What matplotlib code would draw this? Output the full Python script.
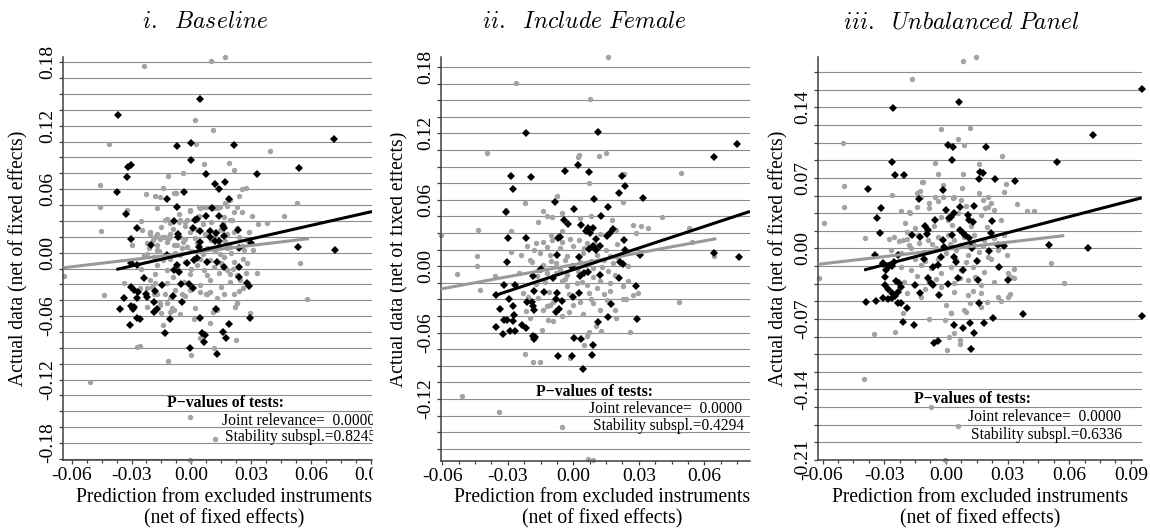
import numpy as np
import matplotlib
matplotlib.use("Agg")
import matplotlib.pyplot as plt
from matplotlib.ticker import MultipleLocator, FormatStrFormatter
from matplotlib.patches import Rectangle

plt.rcParams["font.family"] = ["Liberation Serif", "DejaVu Serif"]
plt.rcParams["mathtext.fontset"] = "cm"

W, H = 1150, 531

# ── data (x = prediction, y = actual) ────────────────────────────────────────
titles = [r"$i.\ \ Baseline$", r"$ii.\ \ Include\ Female$", r"$iii.\ \ Unbalanced\ Panel$"]
p_joint = ["0.0000", "0.0000", "0.0000"]
p_stab = ["0.8245", "0.4294", "0.6336"]

black1 = [(-0.0369, 0.130), (0.0045, 0.145), (0.0716, 0.1076), (-0.0072, 0.101), (-0.0002, 0.104),
          (0.0215, 0.1016), (0.0000, 0.088), (-0.0305, 0.0827), (-0.0319, 0.081), (-0.0325, 0.0716),
          (-0.0372, 0.0569), (0.0075, 0.074), (0.0329, 0.0748), (0.0542, 0.0805), (-0.0039, 0.0575),
          (0.0117, 0.0645), (0.0137, 0.060), (0.0170, 0.067), (-0.0122, 0.0503), (0.0187, 0.0512),
          (-0.0072, 0.0433), (-0.0326, 0.0364), (0.0020, 0.0307), (0.0029, 0.0323), (0.0105, 0.0424),
          (0.0075, 0.0348), (0.0137, 0.0348), (-0.0089, 0.0298), (0.0159, 0.0253), (0.0165, 0.0229),
          (0.0008, 0.0229), (-0.0272, 0.0238), (0.0234, 0.0219), (0.0045, 0.0206), (0.0092, 0.0206),
          (-0.0069, 0.018), (-0.0069, 0.0144), (0.0125, 0.019), (0.0095, 0.0149), (0.0162, 0.0156),
          (0.0117, 0.0112), (0.0140, 0.0112), (-0.0305, 0.013), (0.0299, 0.0087), (-0.0202, 0.0077),
          (0.0045, 0.0102), (0.0039, 0.0055), (0.0237, 0.004), (0.0534, 0.0049), (0.0721, 0.003),
          (-0.0122, -0.0024), (0.0012, -0.0071), (0.0028, -0.0049), (-0.0302, -0.0102), (0.0129, -0.0087),
          (0.0079, -0.0087), (-0.0072, -0.0118), (-0.0022, -0.0102), (0.0165, -0.0134), (0.0237, -0.0134),
          (-0.0272, -0.0118), (-0.0089, -0.0165), (-0.0064, -0.0181), (-0.0239, -0.0244), (-0.0305, -0.0323),
          (-0.0289, -0.0354), (-0.0147, -0.0307), (-0.0052, -0.0298), (0.0008, -0.0338), (-0.0013, -0.0298),
          (-0.0267, -0.037), (-0.0272, -0.0433), (-0.0227, -0.0392), (-0.0222, -0.0418), (-0.0184, -0.0361),
          (-0.0092, -0.0411), (0.0279, -0.0285), (0.0287, -0.0317), (0.0237, -0.0234), (-0.0339, -0.0424),
          (-0.0185, -0.0465), (-0.0045, -0.0465), (-0.0356, -0.0534), (-0.0302, -0.0506), (-0.0292, -0.0534),
          (-0.0285, -0.0518), (-0.0185, -0.056), (-0.0172, -0.0537), (0.0124, -0.0528), (-0.0272, -0.0622),
          (-0.0255, -0.0631), (-0.0105, -0.0631), (0.0045, -0.0616), (0.0295, -0.0622), (-0.0309, -0.0685),
          (0.0189, -0.0676), (-0.0134, -0.0758), (0.0054, -0.0758), (0.0070, -0.078), (0.0065, -0.0849),
          (0.0159, -0.0748), (0.0174, -0.0811), (-0.0005, -0.0905), (0.0129, -0.0962)]

gray1 = [(-0.0239, 0.1766), (0.0099, 0.1816), (0.0170, 0.185), (0.0017, 0.1259), (0.0109, 0.1158),
         (-0.0414, 0.1032), (0.0025, 0.1026), (0.0396, 0.0962), (0.0065, 0.0836), (0.0187, 0.0849),
         (0.0212, 0.0786), (-0.0044, 0.0755), (-0.0119, 0.0723), (-0.0459, 0.0644), (0.0275, 0.0616),
         (0.0254, 0.060), (-0.0143, 0.0613), (-0.0227, 0.0559), (-0.018, 0.0537), (-0.0159, 0.0527),
         (-0.0089, 0.0565), (-0.0075, 0.0565), (0.0237, 0.0537), (-0.0456, 0.0433), (-0.0172, 0.0418),
         (0.0529, 0.0474), (-0.0322, 0.0408), (-0.0009, 0.0395), (0.0042, 0.0427), (0.0062, 0.0433),
         (0.0112, 0.0418), (0.0145, 0.0433), (0.0179, 0.044), (0.0254, 0.0386), (0.0304, 0.0348),
         (0.0466, 0.0348), (0.0379, 0.0282), (0.0334, 0.0267), (-0.0451, 0.0203), (-0.0122, 0.0323),
         (-0.0105, 0.0276), (-0.0055, 0.0307), (-0.003, 0.0291), (0.0204, 0.0307), (-0.0247, 0.0213),
         (-0.0205, 0.0181), (-0.018, 0.0149), (-0.0155, 0.0134), (-0.013, 0.0149), (-0.0297, 0.0071),
         (0.0279, 0.0118), (0.0254, 0.0061), (-0.0022, 0.0055), (-0.0047, 0.004), (-0.0089, 0.0071),
         (0.0179, 0.004), (0.0145, -0.0008), (-0.0172, 0.0024), (-0.0222, -0.0008), (0.0546, -0.0096),
         (0.0279, -0.0102), (-0.0639, -0.0222), (-0.0436, -0.0402), (0.0329, -0.0191), (0.0275, -0.0191),
         (0.0195, -0.0203), (0.0579, -0.0439), (0.0237, -0.0361), (0.0045, -0.037), (0.0095, -0.037),
         (0.0075, -0.0386), (0.0165, -0.0392), (-0.013, -0.0386), (-0.0172, -0.0386), (-0.0047, -0.0386),
         (-0.003, -0.0411), (-0.0222, -0.0338), (-0.0197, -0.0323), (-0.018, -0.0291), (-0.0122, -0.048),
         (-0.0089, -0.0543), (-0.0105, -0.056), (-0.0159, -0.048), (-0.0152, -0.0569), (-0.0222, -0.0512),
         (0.0229, -0.048), (0.022, -0.0512), (0.0292, -0.0566), (0.0109, -0.056), (0.0015, -0.0631),
         (0.0095, -0.0663), (-0.0144, -0.0679), (0.0225, -0.0827), (0.0045, -0.0811), (-0.0272, -0.0896),
         (-0.0255, -0.0881), (-0.0002, -0.0969), (0.0112, -0.0905), (-0.0119, -0.1026), (-0.0506, -0.1221),
         (-0.0009, -0.1558), (0.0120, -0.1763), (-0.0009, -0.1961),
         (-0.0005, 0.0402), (0.0037, 0.0433), (0.0079, 0.0433), (0.0129, 0.0418), (0.017, 0.0465),
         (0.0195, 0.0496), (0.0229, 0.0433), (-0.013, 0.0307), (-0.0064, 0.0291), (-0.0022, 0.0307),
         (0.0162, 0.0338), (0.0195, 0.0307), (0.0212, 0.0386), (-0.0205, 0.0197), (-0.0172, 0.0181),
         (-0.0147, 0.0149), (-0.0105, 0.0181), (-0.0055, 0.0149), (-0.003, 0.0134), (-0.0005, 0.0197),
         (0.0029, 0.0213), (0.007, 0.0181), (0.012, 0.0165), (0.0145, 0.0213), (0.0179, 0.0181),
         (0.0212, 0.0197), (0.0229, 0.0229), (-0.0222, 0.0087), (-0.0172, 0.0071), (-0.0122, 0.0102),
         (-0.0072, 0.0071), (-0.0022, 0.0055), (0.0029, 0.0087), (0.0079, 0.004), (0.0137, 0.0071),
         (0.0195, 0.0055), (0.0262, 0.0024), (-0.0239, -0.0024), (-0.0189, -0.004), (-0.0105, -0.0055),
         (-0.0055, -0.0024), (0.0045, -0.0055), (0.0095, -0.0071), (0.0162, -0.004), (0.0212, -0.0087),
         (-0.0172, -0.0118), (-0.0122, -0.0165), (-0.0072, -0.0134), (-0.0005, -0.0197), (0.0062, -0.0165),
         (0.0112, -0.0134), (0.0179, -0.0165), (0.0229, -0.0213), (-0.0205, -0.026), (-0.0122, -0.0291),
         (-0.0039, -0.0276), (0.0045, -0.0307), (0.0095, -0.026), (0.0195, -0.0276), (0.0245, -0.026),
         (-0.0339, -0.0291), (-0.0255, -0.0338), (-0.0189, -0.0386), (-0.0105, -0.0433), (-0.0005, -0.0354),
         (0.0079, -0.0386), (0.0129, -0.0433), (0.0212, -0.0386), (-0.0155, -0.0496), (-0.0097, -0.0527),
         (-0.0055, -0.0575), (0.002, -0.0527), (0.0129, -0.0543), (0.0229, -0.048),
         (-0.0150, 0.0240), (-0.0090, 0.0220), (-0.0030, 0.0250), (0.0060, 0.0270), (0.0100, 0.0290),
         (0.0160, 0.0280), (-0.0190, 0.0120), (-0.0110, 0.0140), (-0.0040, 0.0100), (0.0020, 0.0140),
         (0.0100, 0.0120), (0.0170, 0.0110), (0.0240, 0.0150), (-0.0160, 0.0020), (-0.0080, 0.0000),
         (0.0000, 0.0020), (0.0060, -0.0010), (0.0120, 0.0020), (0.0200, 0.0000), (-0.0140, -0.0070),
         (-0.0030, -0.0090), (0.0030, -0.0120), (0.0150, -0.0100), (0.0260, -0.0060), (-0.0180, -0.0200),
         (-0.0090, -0.0230), (0.0000, -0.0150), (0.0080, -0.0210), (0.0140, -0.0190), (0.0210, -0.0150),
         (-0.0250, -0.0150), (-0.0210, 0.0040), (0.0310, 0.0030), (0.0290, 0.0200), (-0.0060, 0.0370),
         (0.0040, 0.0350), (0.0260, -0.0330), (-0.0080, -0.0350), (0.0150, -0.0320), (-0.0250, 0.0300)]

black2 = [(-0.0218, 0.1202), (0.0115, 0.1211), (0.0751, 0.1105), (0.0645, 0.099), (0.0023, 0.0915),
          (-0.0038, 0.0861), (0.007, 0.0852), (-0.0287, 0.0819), (-0.0195, 0.081), (0.0222, 0.0819),
          (-0.0275, 0.0699), (0.0238, 0.0729), (0.0211, 0.066), (0.0321, 0.0615), (0.0095, 0.0608),
          (-0.0084, 0.0584), (-0.031, 0.0488), (0.016, 0.0539), (0.0005, 0.0515), (-0.0041, 0.0419),
          (0.0035, 0.0374), (0.0128, 0.0455), (0.0069, 0.0349), (0.0092, 0.0349), (0.0058, 0.032),
          (0.0077, 0.0299), (-0.0023, 0.038), (-0.0218, 0.0259), (-0.0298, 0.0259), (-0.0061, 0.0268),
          (-0.0069, 0.0254), (0.0183, 0.0335), (0.0168, 0.0304), (0.0153, 0.0274), (0.0104, 0.0245),
          (0.0232, 0.0238), (0.0073, 0.0154), (0.0089, 0.0178), (0.0104, 0.0142), (0.0122, 0.0184),
          (0.0237, 0.0148), (0.0306, 0.0103), (-0.0073, 0.0103), (0.0026, 0.0079), (0.0646, 0.0118),
          (0.0759, 0.0079), (-0.0306, 0.0042), (0.0214, 0.0037), (0.0229, 0.0019), (-0.0186, -0.0087),
          (-0.0149, -0.0026), (-0.0092, -0.0107), (-0.0007, -0.0008), (0.0031, -0.0093), (0.0049, -0.0062),
          (0.0069, -0.0048), (0.0122, -0.0078), (0.0211, -0.0107), (-0.0317, -0.0168), (-0.0267, -0.0168),
          (-0.0354, -0.0258), (-0.0293, -0.0297), (-0.018, -0.0228), (-0.0134, -0.0237), (-0.0073, -0.0243),
          (-0.0079, -0.0297), (-0.0003, -0.0279), (0.0025, -0.0243), (0.0287, -0.0183), (-0.0052, -0.031),
          (-0.0213, -0.0328), (-0.0191, -0.0319), (-0.0186, -0.0357), (-0.018, -0.0394), (-0.0275, -0.0364),
          (-0.0272, -0.0439), (-0.0336, -0.0387), (-0.0079, -0.0418), (-0.0064, -0.0387), (0.0171, -0.0342),
          (0.016, -0.046), (0.0293, -0.0478), (0.0115, -0.0508), (-0.0316, -0.0484), (-0.0302, -0.049),
          (-0.0275, -0.0499), (-0.0354, -0.055), (-0.0323, -0.061), (-0.029, -0.0583), (-0.0267, -0.059),
          (-0.0236, -0.0529), (-0.0218, -0.0559), (-0.0186, -0.0628), (-0.018, -0.0658), (-0.0176, -0.064),
          (0.0005, -0.0649), (0.0035, -0.0658), (0.0092, -0.071), (-0.0069, -0.0815), (-0.0007, -0.0809),
          (0.0087, -0.080), (0.0043, -0.0929)]

gray2 = [(0.0158, 0.1893), (-0.0264, 0.1658), (0.0077, 0.1509), (-0.0397, 0.1027), (0.0028, 0.1006),
         (0.002, 0.099), (0.0118, 0.0997), (0.015, 0.1027), (0.0493, 0.0841), (0.0234, 0.0831),
         (0.0073, 0.075), (-0.0073, 0.0636), (-0.0221, 0.057), (0.0226, 0.0579), (-0.0308, 0.0509),
         (-0.0137, 0.0503), (-0.0052, 0.0485), (-0.0122, 0.0449), (-0.0099, 0.044), (0.0405, 0.0443),
         (0.008, 0.0455), (0.0031, 0.0434), (0.0176, 0.0419), (0.0275, 0.0374), (0.031, 0.0367),
         (-0.0287, 0.0322), (-0.0435, 0.0329), (-0.0163, 0.0395), (0.0196, 0.0329), (0.053, 0.0344),
         (0.0542, 0.0218), (0.0287, 0.0304), (0.0344, 0.0349), (-0.0607, 0.0283), (-0.044, 0.0094),
         (-0.0213, 0.0178), (-0.0171, 0.0209), (-0.0137, 0.0223), (-0.0099, 0.0238), (-0.0053, 0.0223),
         (-0.0015, 0.0245), (0.0027, 0.0238), (0.0061, 0.0209), (0.0646, 0.0094), (-0.0287, 0.0127),
         (-0.0153, 0.0118), (-0.0107, 0.0103), (-0.003, 0.0088), (0.0046, 0.0118), (0.0107, 0.0103),
         (0.0168, 0.0088), (-0.0531, -0.0069), (-0.0443, 0.0004), (-0.0427, -0.0213), (-0.0359, -0.0093),
         (0.0484, -0.0324), (-0.0511, -0.1176), (-0.034, -0.1317), (-0.0052, -0.1453), (0.0069, -0.1741),
         (0.0092, -0.1754), (-0.0221, -0.0791), (-0.0183, -0.0869), (-0.0153, -0.0869), (-0.0015, -0.083),
         (0.0049, -0.071), (0.0061, -0.0628), (0.0073, -0.0599), (0.0104, -0.0544), (0.0126, -0.0589),
         (0.026, -0.0599), (0.0195, -0.0469), (0.0191, -0.040), (0.0275, -0.0258), (0.0298, -0.0243),
         (0.0226, -0.0297), (0.0226, -0.0183), (0.0252, -0.0138), (-0.0115, -0.0484), (-0.0092, -0.0499),
         (-0.0145, -0.058), (0.0043, -0.043), (-0.0018, -0.0418), (-0.0137, -0.0394), (-0.0122, -0.0364),
         (-0.0229, -0.0243), (-0.0206, -0.0274), (-0.0092, -0.0319), (-0.0107, -0.0348), (0.0031, -0.0319),
         (0.0092, -0.0333), (0.0153, -0.0303), (-0.003, -0.0183), (0.0015, -0.0153), (0.0061, -0.0168),
         (0.0107, -0.0198), (0.0168, -0.0153), (-0.0168, -0.0093), (-0.0122, -0.0062), (-0.0061, -0.0032),
         (-0.003, -0.0078), (-0.0198, -0.0469), (-0.0217, -0.0409), (-0.0190, 0.0040), (-0.0140, 0.0010),
         (-0.0080, 0.0030), (0.0000, 0.0000), (0.0060, 0.0010), (0.0130, -0.0010), (0.0180, 0.0030),
         (-0.0250, -0.0060), (0.0090, -0.0100), (-0.0050, -0.0130), (0.0140, -0.0250), (-0.0170, -0.0160),
         (-0.0180, 0.0150), (-0.0120, 0.0170), (-0.0060, 0.0160), (0.0000, 0.0180), (0.0050, 0.0160),
         (0.0100, 0.0200), (0.0150, 0.0150), (-0.0200, 0.0060), (-0.0100, 0.0050), (-0.0040, 0.0060),
         (0.0030, 0.0040), (0.0080, 0.0050), (0.0140, 0.0060), (0.0200, 0.0080), (-0.0160, -0.0030),
         (-0.0080, -0.0060), (0.0020, -0.0040), (0.0090, -0.0020), (0.0160, -0.0040), (-0.0130, -0.0140),
         (-0.0040, -0.0120), (0.0040, -0.0140), (0.0120, -0.0130), (0.0190, -0.0080), (-0.0110, -0.0230),
         (-0.0020, -0.0250), (0.0070, -0.0240), (0.0170, -0.0220), (-0.0160, -0.0290), (0.0000, -0.0350),
         (0.0120, -0.0400), (-0.0050, -0.0450), (0.0200, 0.0200), (-0.0240, 0.0100), (0.0250, 0.0000),
         (-0.0050, 0.0320), (0.0120, 0.0290), (-0.0100, 0.0280), (0.0240, -0.0300), (0.0080, -0.0300)]

black3 = [(0.0955, 0.1579), (-0.0255, 0.139), (0.0062, 0.145), (0.0718, 0.1122), (0.0011, 0.1026),
          (0.0037, 0.1009), (0.0196, 0.1003), (0.0029, 0.0877), (-0.026, 0.0854), (0.0539, 0.0854),
          (-0.0248, 0.0728), (-0.0206, 0.0728), (-0.0381, 0.059), (-0.0016, 0.058), (0.0167, 0.0761),
          (0.0179, 0.0751), (0.0162, 0.0689), (0.024, 0.0689), (0.0338, 0.0672), (-0.013, 0.0487),
          (0.0138, 0.0424), (-0.0317, 0.0398), (0.0000, 0.0381), (0.007, 0.0408), (0.004, 0.0348),
          (0.0024, 0.0315), (0.0016, 0.0299), (-0.0333, 0.0299), (0.0106, 0.0331), (0.0114, 0.0282),
          (0.013, 0.0265), (-0.0054, 0.0282), (0.0223, 0.0272), (-0.032, 0.015), (-0.0102, 0.0225),
          (-0.0089, 0.0183), (-0.0092, 0.014), (-0.0167, 0.0133), (-0.0127, 0.011), (0.007, 0.0183),
          (0.0081, 0.015), (0.0093, 0.013), (0.0114, 0.010), (0.0122, 0.0017), (0.0028, 0.013),
          (-0.0016, 0.0083), (-0.0008, 0.0017), (0.0219, 0.015), (0.0252, 0.0034), (0.0281, 0.0027),
          (0.0211, -0.0023), (0.0503, 0.0034), (0.069, 0.0007), (-0.0344, -0.0066), (-0.0232, -0.0066),
          (-0.0308, -0.0148), (-0.0284, -0.0182), (-0.026, -0.0172), (-0.0252, -0.0132), (-0.0106, -0.0108),
          (-0.0024, -0.0088), (0.004, -0.0082), (0.0049, -0.0132), (0.0125, 0.0001), (0.0151, -0.0125),
          (0.0257, -0.0182), (-0.0308, -0.0155), (-0.0292, -0.0214), (-0.0297, -0.0281), (-0.039, -0.0529),
          (-0.0341, -0.0519), (-0.0308, -0.0495), (-0.0284, -0.0505), (-0.026, -0.0495), (-0.0297, -0.0363),
          (-0.0284, -0.0406), (-0.026, -0.0446), (-0.0248, -0.0472), (-0.0235, -0.043), (-0.0244, -0.0321),
          (-0.0227, -0.0346), (-0.0219, -0.038), (-0.0235, -0.0539), (-0.0219, -0.0539), (-0.019, -0.0594),
          (-0.0211, -0.0727), (-0.0157, -0.076), (-0.0151, -0.0363), (-0.0125, -0.0446), (-0.0089, -0.0297),
          (-0.0073, -0.0346), (-0.0065, -0.0363), (-0.0033, -0.0463), (0.0008, -0.0353), (-0.0065, -0.0182),
          (-0.004, -0.0165), (0.0057, -0.0297), (0.0081, -0.0214), (0.0154, -0.0314), (0.0162, -0.0545),
          (0.030, -0.0314), (0.004, -0.076), (0.0081, -0.0793), (0.0118, -0.0737), (0.0135, -0.0843),
          (0.0184, -0.0737), (0.0227, -0.0694), (0.0374, -0.0654), (0.0953, -0.0671), (-0.0057, -0.0936),
          (-0.004, -0.0916), (0.0122, -0.1001)]

gray3 = [(0.0084, 0.1863), (0.0146, 0.1903), (-0.0167, 0.1681), (-0.0503, 0.1043), (-0.0024, 0.1182),
         (0.0117, 0.1198), (0.0057, 0.1083), (0.0086, 0.1026), (0.0273, 0.092), (-0.0054, 0.0851),
         (0.0162, 0.0834), (-0.0495, 0.0622), (-0.0495, 0.0414), (-0.0593, 0.0255), (-0.0393, 0.0106),
         (-0.004, 0.0735), (0.0081, 0.0738), (0.0292, 0.0636), (0.0284, 0.0563), (0.0078, 0.0596),
         (-0.0015, 0.0629), (0.0346, 0.0441), (0.0395, 0.0371), (0.043, 0.0371), (-0.0117, 0.0662),
         (-0.0143, 0.0547), (-0.0125, 0.0573), (-0.0264, 0.053), (-0.0219, 0.0371), (-0.0179, 0.0364),
         (-0.0141, 0.0414), (-0.0054, 0.0513), (-0.0016, 0.0513), (0.0033, 0.0497), (0.0073, 0.048),
         (0.0203, 0.0513), (0.0219, 0.0448), (0.019, 0.0398), (0.0162, 0.0547), (0.0179, 0.048),
         (-0.0279, 0.009), (-0.0227, 0.0076), (-0.0187, 0.0096), (0.0297, -0.0066), (0.0333, -0.0207),
         (0.0511, -0.0142), (-0.0174, 0.0348), (-0.0081, 0.0448), (-0.0036, 0.0473), (0.004, 0.0513),
         (-0.0122, 0.0513), (-0.0113, 0.0662), (-0.0024, 0.0315), (0.0008, 0.0282), (0.0057, 0.0348),
         (0.0106, 0.0315), (0.017, 0.0331), (0.0203, 0.0414), (0.0235, 0.0381), (-0.0252, 0.0116),
         (-0.0211, 0.0083), (-0.0187, 0.0166), (-0.0138, 0.0133), (-0.0089, 0.0083), (-0.004, 0.0116),
         (0.0008, 0.0133), (0.004, 0.0083), (0.0089, 0.0116), (0.0138, 0.0133), (0.0187, 0.0083),
         (0.0235, 0.010), (0.0284, 0.0133), (-0.0268, -0.0016), (-0.0219, -0.0049), (-0.017, 0.0001),
         (-0.0106, -0.0033), (-0.0049, 0.0001), (0.0000, -0.0049), (0.0049, -0.0016), (0.0106, -0.0066),
         (0.0162, -0.0033), (0.0203, -0.0082), (0.0252, -0.0016), (-0.0219, -0.0182), (-0.017, -0.0214),
         (-0.0122, -0.0165), (-0.0073, -0.0198), (-0.0024, -0.0247), (0.0024, -0.0182), (0.0073, -0.0214),
         (0.013, -0.0182), (0.0187, -0.0231), (0.0252, -0.0182), (0.030, -0.0247), (-0.0203, -0.033),
         (-0.0154, -0.0363), (-0.0089, -0.0314), (-0.0024, -0.038), (0.004, -0.0346), (0.0106, -0.0314),
         (0.017, -0.0363), (0.0235, -0.033), (0.0317, -0.0281), (-0.0187, -0.0446), (-0.0122, -0.0479),
         (-0.004, -0.0463), (0.004, -0.043), (0.0106, -0.0463), (0.017, -0.0446), (0.0252, -0.0479),
         (0.0024, -0.0644), (0.0089, -0.0611), (0.017, -0.0579), (0.030, -0.0479), (-0.0211, -0.0644),
         (-0.0352, -0.085), (-0.0247, -0.0827), (-0.0401, -0.1299), (-0.0073, -0.1571), (0.0057, -0.176),
         (-0.0003, -0.210), (0.0003, -0.1008), (0.0016, -0.0876), (0.007, -0.0909), (0.007, -0.0949),
         (0.004, -0.0843), (-0.0084, -0.0704), (-0.0003, -0.0711), (0.0024, -0.0644), (0.0097, -0.0628),
         (0.0118, -0.0539), (0.0199, -0.0529), (0.0268, -0.0519), (0.0313, -0.0453), (0.033, -0.0297),
         (0.0573, -0.0346), (-0.0617, -0.0297),
         (-0.0150, 0.0200), (-0.0060, 0.0220), (0.0030, 0.0230), (0.0120, 0.0220), (0.0200, 0.0210),
         (-0.0180, 0.0030), (-0.0130, 0.0050), (-0.0070, 0.0040), (0.0020, 0.0040), (0.0070, 0.0030),
         (0.0130, 0.0050), (0.0180, 0.0020), (-0.0150, -0.0100), (-0.0100, -0.0120), (-0.0040, -0.0100),
         (0.0050, -0.0110), (0.0100, -0.0130), (0.0150, -0.0120), (0.0220, -0.0100), (-0.0140, -0.0270),
         (-0.0050, -0.0300), (0.0070, -0.0290), (0.0140, -0.0280), (-0.0080, 0.0400), (0.0100, 0.0420),
         (-0.0200, 0.0250), (0.0270, 0.0280), (-0.0100, -0.0400), (0.0000, -0.0560), (0.0130, -0.0420)]

# fitted lines: (intercept, slope, x start, x end); None = axis edge
fit_black = [(0.0002, 0.427, -0.0376, None), (-0.0031, 0.65, -0.0359, None), (-0.0003, 0.53, -0.0398, None)]
fit_gray = [(0.0001, 0.224, None, 0.059), (0.0013, 0.36, None, 0.0655), (-0.0010, 0.238, None, 0.0576)]

blacks = [black1, black2, black3]
grays = [gray1, gray2, gray3]

# ── layout (pixel boxes measured on the reference) ───────────────────────────
axes_px = [(63.3, 372.0, 57, 460), (441.0, 750.0, 57, 461), (818.3, 1141.7, 57, 460)]
xlims = [(-0.0642, 0.0906), (-0.0606, 0.0809), (-0.0621, 0.0953)]
ylims = [(-0.196, 0.185), (-0.176, 0.189), (-0.210, 0.190)]
ymajor = [0.06, 0.06, 0.07]
yminor = [0.015, 0.015, 0.0175]
title_cx = [205.5, 584.7, 961]
xlabel_cx = [224, 602, 980]
ylabel_x = [18.5, 398.5, 778.5]
ptext = [(225.7, 403, 222, 421, 225, 437), (594.5, 392, 589, 409, 593, 426),
         (972, 399, 968, 417, 971, 435)]

GRID = "#8c8c8c"
GRAYPT = "#a3a3a3"

fig = plt.figure(figsize=(W / 100, H / 100), dpi=100)


def fx(px):
    return px / W


def fy(py):
    return 1 - py / H


for i in range(3):
    l, r, t, b = axes_px[i]
    ax = fig.add_axes([fx(l), fy(b), (r - l) / W, (b - t) / H])
    ax.set_xlim(*xlims[i])
    ax.set_ylim(*ylims[i])

    ax.xaxis.set_major_locator(MultipleLocator(0.03))
    ax.xaxis.set_minor_locator(MultipleLocator(0.0075))
    ax.yaxis.set_major_locator(MultipleLocator(ymajor[i]))
    ax.yaxis.set_minor_locator(MultipleLocator(yminor[i]))
    ax.xaxis.set_major_formatter(FormatStrFormatter("%.2f"))
    ax.yaxis.set_major_formatter(FormatStrFormatter("%.2f"))
    ax.grid(True, which="both", axis="y", color=GRID, lw=0.8, zorder=0)
    ax.set_axisbelow(True)

    for s in ["top", "right"]:
        ax.spines[s].set_visible(False)
    for s in ["left", "bottom"]:
        ax.spines[s].set_color("#404040")
        ax.spines[s].set_linewidth(1.1)

    ax.tick_params(axis="both", which="both", direction="out", color="#404040", width=0.9)
    ax.tick_params(axis="x", which="major", length=3.2, labelsize=14, pad=1.5)
    ax.tick_params(axis="x", which="minor", length=2.0)
    ax.tick_params(axis="y", which="both", length=3.0, labelsize=14, pad=2, labelrotation=90)
    for lab in ax.get_yticklabels():
        lab.set_va("center")

    g = np.array(grays[i])
    k = np.array(blacks[i])
    ax.plot(g[:, 0], g[:, 1], "o", ms=3.9, color=GRAYPT, mew=0, zorder=2, clip_on=False)
    ax.plot(k[:, 0], k[:, 1], "D", ms=4.0, color="black", mew=0, zorder=3, clip_on=False)

    x0, x1 = xlims[i]
    a, bb, xs, xe = fit_gray[i]
    xx = np.array([x0 if xs is None else xs, x1 if xe is None else xe])
    ax.plot(xx, a + bb * xx, color="#999999", lw=2.2, zorder=4, solid_capstyle="butt")
    a, bb, xs, xe = fit_black[i]
    xx = np.array([x0 if xs is None else xs, x1 if xe is None else xe])
    ax.plot(xx, a + bb * xx, color="black", lw=2.2, zorder=5, solid_capstyle="butt")

    ax.set_xlabel("Prediction from excluded instruments\n(net of fixed effects)",
                  fontsize=14.1, linespacing=1.12)
    ax.xaxis.set_label_coords((xlabel_cx[i] - l) / (r - l), -(488.5 - b) / (b - t), transform=ax.transAxes)
    ax.xaxis.label.set_va("top")
    ax.set_ylabel("Actual data (net of fixed effects)", fontsize=14.1)
    ax.yaxis.set_label_coords((ylabel_x[i] - l) / (r - l), 0.5)
    ax.yaxis.label.set_va("center")

    fig.text(fx(title_cx[i]), fy(23), titles[i], ha="center", va="center", fontsize=17)

    pcx, pcy, jx, jy, sx, sy = ptext[i]
    fig.text(fx(pcx), fy(pcy), "P\u2212values of tests:", ha="center", va="center",
             fontsize=11.3, fontweight="bold")
    fig.text(fx(jx), fy(jy), "Joint relevance=  " + p_joint[i], ha="left", va="center", fontsize=11.2)
    fig.text(fx(sx), fy(sy), "Stability subspl.=" + p_stab[i], ha="left", va="center", fontsize=11.2)

# the first panel is cropped on its right side in the reference
fig.patches.append(Rectangle((fx(372.5), 0), fx(17), 1, transform=fig.transFigure,
                             facecolor="white", edgecolor="none", zorder=20))

fig.savefig("out.png", dpi=100)
